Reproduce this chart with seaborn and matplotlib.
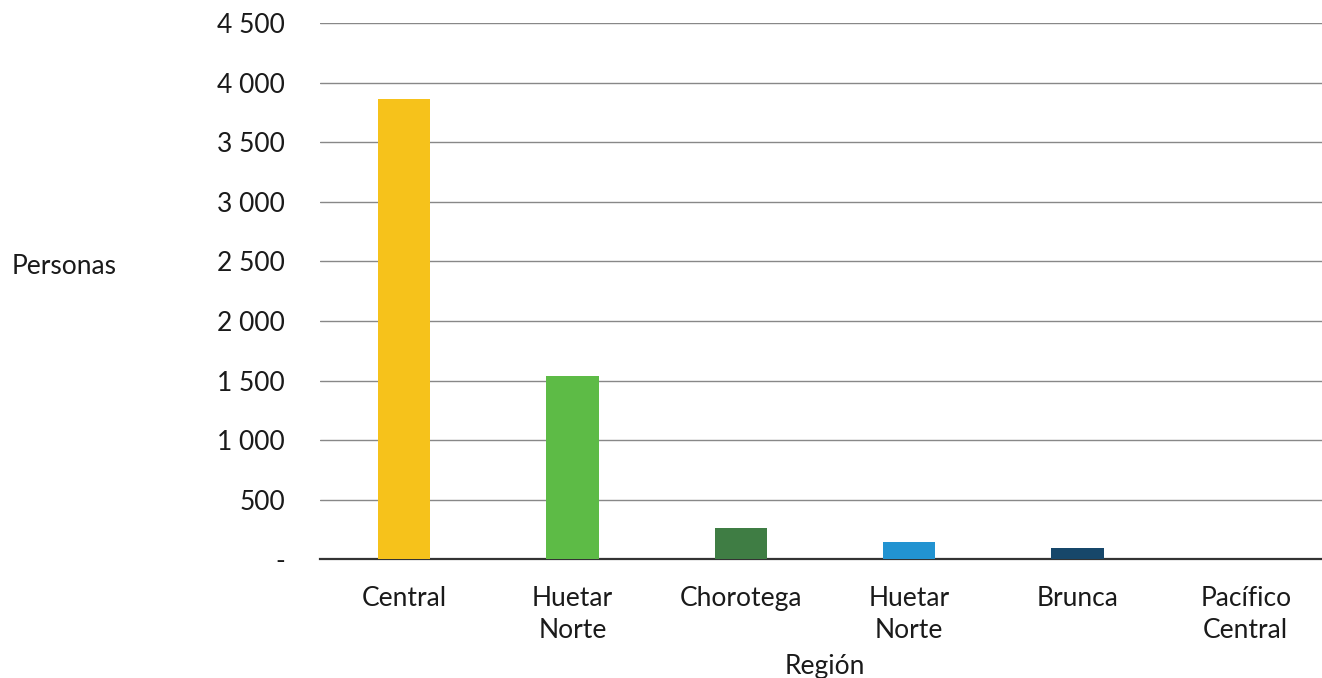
import matplotlib
matplotlib.use("Agg")
import matplotlib.pyplot as plt
import matplotlib.ticker as mticker
import seaborn as sns
import pandas as pd

# Personas por región
regiones = ["Central", "Huetar\nNorte", "Chorotega", "Huetar\nNorte", "Brunca", "Pacífico\nCentral"]
personas = [3865, 1539, 264, 147, 96, 0]
colores = ["#F6C21B", "#5DBB46", "#3F7D44", "#2293D1", "#17476A", "#8A8A8A"]
yticks = [0, 500, 1000, 1500, 2000, 2500, 3000, 3500, 4000, 4500]

sns.set_theme(style="white")
plt.rcParams["font.family"] = ["Lato", "DejaVu Sans"]

df = pd.DataFrame({"pos": list(range(len(regiones))), "personas": personas})

fig = plt.figure(figsize=(13.22, 6.78), dpi=100)
# the plotting area runs slightly past the right edge of the canvas
ax = fig.add_axes([0.242, 0.175, 0.764, 0.791])

sns.barplot(data=df, x="pos", y="personas", hue="pos", palette=colores,
            legend=False, width=0.31, saturation=1, ax=ax, zorder=3,
            edgecolor="none", linewidth=0)

ax.set_ylim(0, 4500)
ax.set_xlim(-0.5, len(regiones) - 0.5)
ax.set_yticks(yticks)
ax.yaxis.set_major_formatter(mticker.FuncFormatter(
    lambda v, p: "-" if v == 0 else f"{int(v):,}".replace(",", " ")))
ax.set_xticks(range(len(regiones)))
ax.set_xticklabels(regiones, linespacing=1.38)

ax.grid(axis="y", color="#888888", linewidth=1.0, zorder=0)
ax.grid(axis="x", visible=False)
for s in ["top", "right", "left"]:
    ax.spines[s].set_visible(False)
ax.spines["bottom"].set_color("#333333")
ax.spines["bottom"].set_linewidth(1.6)
ax.spines["bottom"].set_zorder(2)

ax.tick_params(axis="y", length=0, pad=25, labelsize=19, labelcolor="#1a1a1a")
ax.tick_params(axis="x", length=0, pad=19, labelsize=19, labelcolor="#1a1a1a")

ax.set_xlabel("Región", fontsize=19, color="#1a1a1a", labelpad=8)
ax.set_ylabel("Personas", fontsize=19, color="#1a1a1a", rotation=0,
              ha="left", va="center")
ax.yaxis.set_label_coords(-0.305, 0.546)

fig.savefig("out.png", dpi=100)
